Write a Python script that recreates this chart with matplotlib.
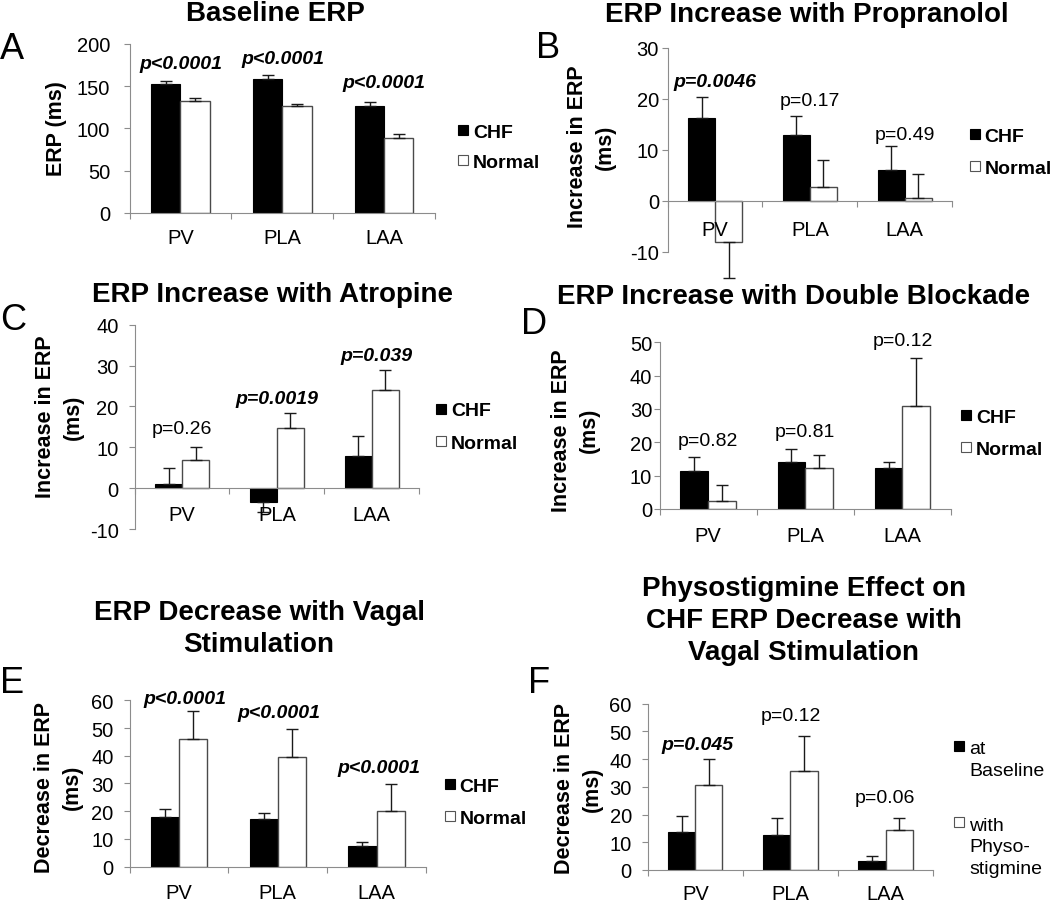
import numpy as np
import matplotlib
matplotlib.use("Agg")
import matplotlib.pyplot as plt
from matplotlib.patches import Rectangle

plt.rcParams['font.family'] = ['Liberation Sans', 'DejaVu Sans']
plt.rcParams['axes.unicode_minus'] = False

W, H = 1050, 904

categories = ['PV', 'PLA', 'LAA']

# Panel A - Baseline ERP
A_chf = [152, 159, 127]
A_chf_err = [4, 4.5, 4]
A_norm = [132, 126, 89]
A_norm_err = [4, 3, 4]

# Panel B - Propranolol
B_chf = [16.2, 12.9, 6.0]
B_chf_err = [4.1, 3.7, 4.7]
B_norm = [-8.1, 2.8, 0.5]
B_norm_err = [7.0, 5.3, 4.7]

# Panel C - Atropine
C_chf = [1.0, -3.3, 7.8]
C_chf_err = [4.0, 2.5, 5.0]
C_norm = [6.9, 14.7, 24.0]
C_norm_err = [3.3, 3.7, 4.8]

# Panel D - Double blockade
D_chf = [11.4, 14.1, 12.2]
D_chf_err = [4.3, 4.0, 1.9]
D_norm = [2.3, 12.2, 30.8]
D_norm_err = [4.8, 3.9, 14.6]

# Panel E - Vagal stimulation
E_chf = [17.9, 17.1, 7.6]
E_chf_err = [2.8, 2.4, 1.3]
E_norm = [46.1, 39.6, 20.0]
E_norm_err = [10.0, 10.0, 9.9]

# Panel F - Physostigmine
F_base = [13.7, 12.6, 3.4]
F_base_err = [5.8, 6.3, 1.5]
F_phys = [30.7, 35.6, 14.6]
F_phys_err = [9.2, 12.9, 4.3]

A_p = ['p<0.0001', 'p<0.0001', 'p<0.0001']
B_p = ['p=0.0046', 'p=0.17', 'p=0.49']
C_p = ['p=0.26', 'p=0.0019', 'p=0.039']
D_p = ['p=0.82', 'p=0.81', 'p=0.12']
E_p = ['p<0.0001', 'p<0.0001', 'p<0.0001']
F_p = ['p=0.045', 'p=0.12', 'p=0.06']
A_sig = [True, True, True]
B_sig = [True, False, False]
C_sig = [False, True, True]
D_sig = [False, False, False]
E_sig = [True, True, True]
F_sig = [True, False, False]

leg_std = ['CHF', 'Normal']
leg_F = ['at\nBaseline', 'with\nPhyso-\nstigmine']

fig = plt.figure(figsize=(W / 100, H / 100), dpi=100)
GRAY = '#8c8c8c'
TICK_FS = 14.5


def fx(px):
    return px / W


def fy(py):
    return 1 - py / H


def add_ax(left, right, top, bottom):
    return fig.add_axes([fx(left), fy(bottom), (right - left) / W, (bottom - top) / H])


def legend_manual(x_sq, rows, baselines, labels, bold):
    fills = ['black', 'white']
    edges = ['black', '#555555']
    for r, b, lab, fc, ec in zip(rows, baselines, labels, fills, edges):
        sq = Rectangle((fx(x_sq), fy(r + 5)), 10 / W, 10 / H, transform=fig.transFigure,
                       facecolor=fc, edgecolor=ec, lw=0.8)
        fig.add_artist(sq)
        fig.text(fx(x_sq + 15), fy(b), lab, ha='left', va='baseline', fontsize=14,
                 fontweight='bold' if bold else 'normal', linespacing=1.38)


def panel(box, ylim, yticks, s1, e1, s2, e2, ptexts, psig, ppos,
          ylab, ylab_xy, ypad, xpad=12):
    ax = add_ax(*box)
    x = np.arange(len(categories))
    w = 0.285
    ax.bar(x - w / 2, s1, w, color='black', edgecolor='black', lw=0.8, zorder=1)
    ax.bar(x + w / 2, s2, w, color='white', edgecolor='#4a4a4a', lw=1.0, zorder=1)
    for xs, v, e in ((x - w / 2, s1, e1), (x + w / 2, s2, e2)):
        v = np.array(v, float)
        e = np.array(e, float)
        lo = np.where(v < 0, e, 0)
        hi = np.where(v < 0, 0, e)
        eb = ax.errorbar(xs, v, yerr=[lo, hi], fmt='none', ecolor='#1a1a1a',
                         elinewidth=1.0, capsize=4.3, capthick=1.0, zorder=1.2)
        for a in eb.get_children():
            a.set_clip_on(False)
    ax.set_xlim(-0.5, 2.5)
    ax.set_ylim(*ylim)
    ax.set_yticks(yticks)
    ax.set_xticks(x)
    ax.set_xticklabels(categories)
    ax.set_xticks([-0.5, 0.5, 1.5, 2.5], minor=True)
    ax.tick_params(axis='x', which='major', length=0, pad=xpad, labelsize=TICK_FS)
    ax.tick_params(axis='x', which='minor', length=4.3, width=0.8, color=GRAY, direction='out')
    ax.tick_params(axis='y', which='major', length=4.3, width=0.8, color=GRAY,
                   labelsize=TICK_FS, pad=ypad)
    for s in ('top', 'right'):
        ax.spines[s].set_visible(False)
    for s in ('left', 'bottom'):
        ax.spines[s].set_color(GRAY)
        ax.spines[s].set_linewidth(0.8)
    ax.spines['bottom'].set_position(('data', 0))
    ax.patch.set_visible(False)
    for t, sig, (px, py) in zip(ptexts, psig, ppos):
        ax.text(px, py, t, ha='center', va='baseline', fontsize=14,
                fontweight='bold' if sig else 'normal',
                fontstyle='italic' if sig else 'normal')
    fig.text(fx(ylab_xy[0]), fy(ylab_xy[1]), ylab, rotation=90, ha='center', va='center',
             fontsize=15.5, fontweight='bold', multialignment='center', linespacing=1.43)
    return ax


# A
panel((129.5, 435.4, 45, 213.7), (0, 200), [0, 50, 100, 150, 200], A_chf, A_chf_err, A_norm, A_norm_err,
      A_p, A_sig, [(0, 171), (1, 178), (2, 148.5)],
      'ERP (ms)', (56.5, 129), 9.7, xpad=11)
legend_manual(458, [131, 161], [138, 168], leg_std, True)

# B
panel((667.7, 952, 49, 252.9), (-10, 30), [-10, 0, 10, 20, 30], B_chf, B_chf_err, B_norm, B_norm_err,
      B_p, B_sig, [(0, 22.5), (1, 18.9), (2, 12.1)],
      'Increase in ERP\n(ms)', (591, 147), 2.0, xpad=14)
legend_manual(969.6, [135.2, 166.7], [142.2, 173.7], leg_std, True)

# C
panel((134.6, 419.2, 325.6, 530.2), (-10, 40), [-10, 0, 10, 20, 30, 40], C_chf, C_chf_err, C_norm, C_norm_err,
      C_p, C_sig, [(0, 13.5), (1, 20.9), (2.05, 31.3)],
      'Increase in ERP\n(ms)', (59.2, 417), 7.2, xpad=12)
legend_manual(436, [409.5, 441.6], [416.5, 448.6], leg_std, True)

# D
panel((659.6, 951, 343.2, 509.9), (0, 50), [0, 10, 20, 30, 40, 50], D_chf, D_chf_err, D_norm, D_norm_err,
      D_p, D_sig, [(0, 19.1), (1, 21.8), (2, 49.1)],
      'Increase in ERP\n(ms)', (575.8, 430.4), 1.0, xpad=12)
legend_manual(961, [416.2, 448], [423.2, 455], leg_std, True)

# E
panel((129.5, 426, 701.3, 867.6), (0, 60), [0, 10, 20, 30, 40, 50, 60], E_chf, E_chf_err, E_norm, E_norm_err,
      E_p, E_sig, [(0.06, 59.2), (1.01, 54.0), (2.02, 34.2)],
      'Decrease in ERP\n(ms)', (58.3, 787.3), 7.2, xpad=12)
legend_manual(444.6, [784.8, 817], [791.8, 824], leg_std, True)

# F
panel((647.8, 933.1, 704.7, 871), (0, 60), [0, 10, 20, 30, 40, 50, 60], F_base, F_base_err, F_phys, F_phys_err,
      F_p, F_sig, [(0.02, 43.7), (1.0, 54.0), (1.99, 24.4)],
      'Decrease in ERP\n(ms)', (578.3, 789), 7.2, xpad=10)
legend_manual(954.4, [747, 823], [776.4, 874.4], leg_F, False)

# Titles (y = baseline of last line)
titles = [
    ('Baseline ERP', 275, 21),
    ('ERP Increase with Propranolol', 807, 22),
    ('ERP Increase with Atropine', 272, 302),
    ('ERP Increase with Double Blockade', 794, 303.7),
    ('ERP Decrease with Vagal\nStimulation', 259, 652),
    ('Physostigmine Effect on\nCHF ERP Decrease with\nVagal Stimulation', 804, 660.4),
]
for t, x, y in titles:
    fig.text(fx(x), fy(y), t, ha='center', va='baseline', fontsize=20, fontweight='bold',
             multialignment='center', linespacing=1.31)

letters = [('A', 0, 59), ('B', 536, 57.5), ('C', 0, 329.7), ('D', 521, 334), ('E', 0, 693.5), ('F', 528, 693.5)]
for t, x, y in letters:
    fig.text(fx(x), fy(y), t, ha='left', va='baseline', fontsize=26)

fig.savefig('out.png', dpi=100)
